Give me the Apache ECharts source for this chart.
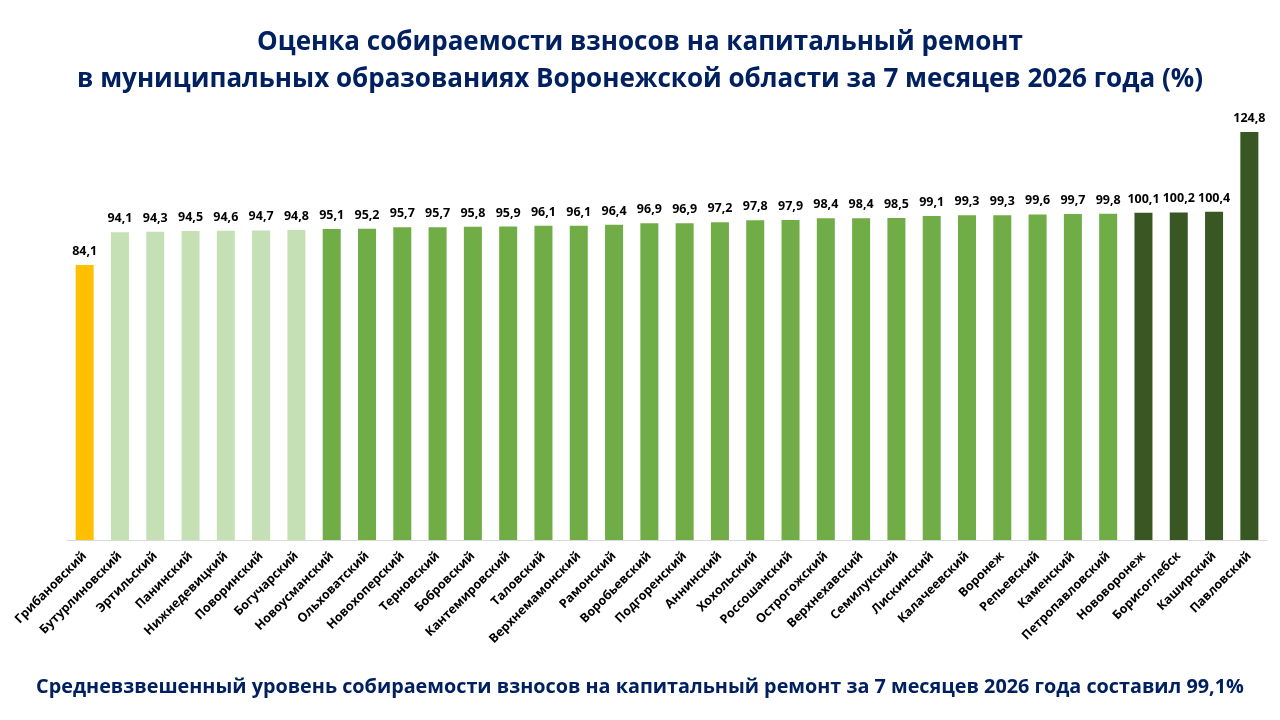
<!DOCTYPE html>
<html>
<head>
<meta charset="utf-8">
<script src="https://cdn.jsdelivr.net/npm/echarts@6/dist/echarts.min.js"></script>
<style>
  html, body { margin: 0; padding: 0; background: #fff; }
  #chart { width: 1280px; height: 720px; }
</style>
</head>
<body>
<div id="chart"></div>
<script>
// районы, по возрастанию уровня собираемости
const districts = [
  'Грибановский', 'Бутурлиновский', 'Эртильский', 'Панинский', 'Нижнедевицкий',
  'Поворинский', 'Богучарский', 'Новоусманский', 'Ольховатский', 'Новохоперский',
  'Терновский', 'Бобровский', 'Кантемировский', 'Таловский', 'Верхнемамонский',
  'Рамонский', 'Воробьевский', 'Подгоренский', 'Аннинский', 'Хохольский',
  'Россошанский', 'Острогожский', 'Верхнехавский', 'Семилукский', 'Лискинский',
  'Калачеевский', 'Воронеж', 'Репьевский', 'Каменский', 'Петропавловский',
  'Нововоронеж', 'Борисоглебск', 'Каширский', 'Павловский'
];
const collection = [
  84.1, 94.1, 94.3, 94.5, 94.6,
  94.7, 94.8, 95.1, 95.2, 95.7,
  95.7, 95.8, 95.9, 96.1, 96.1,
  96.4, 96.9, 96.9, 97.2, 97.8,
  97.9, 98.4, 98.4, 98.5, 99.1,
  99.3, 99.3, 99.6, 99.7, 99.8,
  100.1, 100.2, 100.4, 124.8
];
// группа района: 0 - ниже 90, 1 - 90..95, 2 - 95..100, 3 - свыше 100
const groups = [
  0, 1, 1, 1, 1,
  1, 1, 2, 2, 2,
  2, 2, 2, 2, 2,
  2, 2, 2, 2, 2,
  2, 2, 2, 2, 2,
  2, 2, 2, 2, 2,
  3, 3, 3, 3
];
const groupColors = ['#FFC000', '#C5E0B4', '#70AD47', '#385723'];

const font = '"Open Sans", "Noto Sans", sans-serif';
const navy = '#002060';

const chart = echarts.init(document.getElementById('chart'));
chart.setOption({
  textStyle: { fontFamily: font },
  title: [
    {
      text: 'Оценка собираемости взносов на капитальный ремонт\nв муниципальных образованиях Воронежской области за 7 месяцев 2026 года (%)',
      left: 'center',
      top: 19,
      textStyle: { fontSize: 26, fontWeight: 'bold', color: navy, lineHeight: 37, fontFamily: font, align: 'center' }
    },
    {
      text: 'Средневзвешенный уровень собираемости взносов на капитальный ремонт за 7 месяцев 2026 года составил 99,1%',
      left: 'center',
      top: 672,
      textStyle: { fontSize: 19.8, fontWeight: 'bold', color: navy, fontFamily: font }
    }
  ],
  grid: { left: 67, right: 13, top: 115, bottom: 180 },
  xAxis: {
    type: 'category',
    data: districts,
    axisLine: { lineStyle: { color: '#D9D9D9' } },
    axisTick: { show: false },
    axisLabel: {
      interval: 0,
      rotate: 45,
      color: '#000',
      fontSize: 12.5,
      fontWeight: 'bold',
      fontFamily: font,
      margin: 14
    }
  },
  yAxis: {
    type: 'value',
    min: 0,
    max: 130,
    show: false,
    splitLine: { show: false }
  },
  series: [
    {
      type: 'bar',
      barWidth: 18,
      data: collection,
      itemStyle: {
        color: p => groupColors[groups[p.dataIndex]]
      },
      label: {
        show: true,
        position: 'top',
        distance: 7,
        color: '#000',
        fontSize: 12.5,
        fontWeight: 'bold',
        fontFamily: font,
        formatter: p => p.value.toFixed(1).replace('.', ',')
      }
    }
  ]
});
</script>
</body>
</html>
